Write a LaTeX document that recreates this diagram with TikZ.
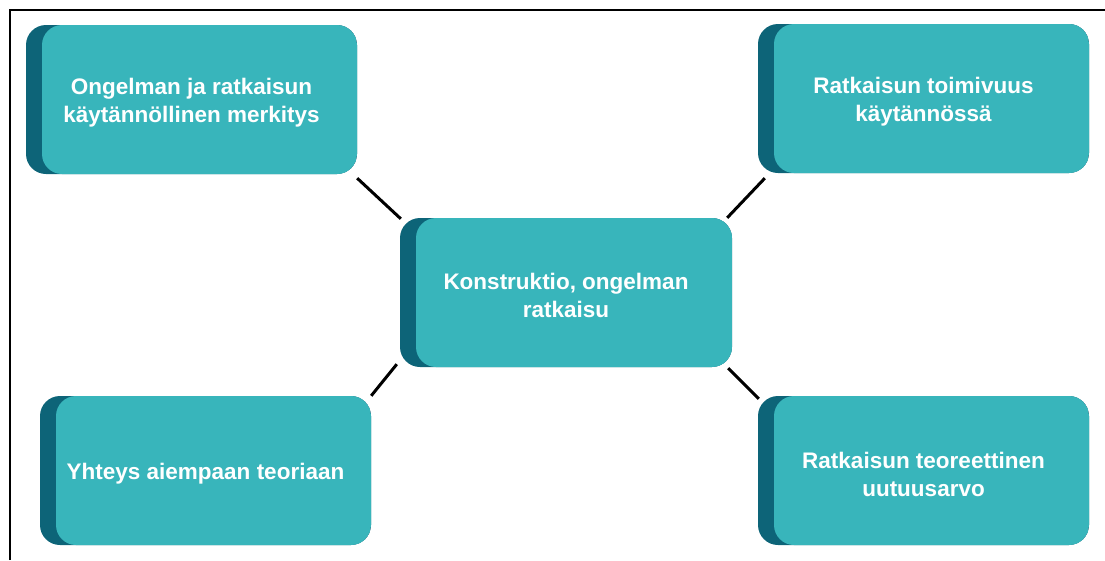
\documentclass[tikz,border=0pt]{standalone}
\usepackage{fontspec}
\setmainfont{Liberation Sans}
\usetikzlibrary{calc}
\definecolor{tealfront}{HTML}{38B5BB}
\definecolor{tealback}{HTML}{0D6478}
\begin{document}
\begin{tikzpicture}[x=1pt,y=-1pt,
  card/.style={rectangle, rounded corners=20pt, fill=tealback,
    minimum width=331pt, minimum height=149pt, inner sep=0pt,
    path picture={\fill[tealfront, rounded corners=20pt]
      ([xshift=16pt]path picture bounding box.south west)
      rectangle (path picture bounding box.north east);}},
  cardtext/.style={text=white, align=center, inner sep=0pt,
    font=\fontsize{22.5}{28}\selectfont\bfseries},
  link/.style={line width=3pt, black},
  frame/.style={line width=2pt, black}]
\useasboundingbox (0,0) rectangle (1105,560);

% outer frame (top and left edges)
\coordinate (fl) at (10,560);
\coordinate (fc) at (10,10);
\coordinate (fr) at (1105,10);
\draw[frame] (fl) -- (fc) -- (fr);

% cards
\node[card] (a) at (191.5,99.5) {};
\node[card] (b) at (923.5,98.5) {};
\node[card, minimum width=332pt] (c) at (566,292.5) {};
\node[card] (d) at (205.5,470.5) {};
\node[card] (e) at (923.5,470.5) {};

% card captions, set a little below each card's centre
\node[cardtext] (at) at ($(a.center)+(0,3.5)$) {Ongelman ja ratkaisun\\käytännöllinen merkitys};
\node[cardtext] (bt) at ($(b.center)+(0,3.5)$) {Ratkaisun toimivuus\\käytännössä};
\node[cardtext] (ct) at ($(c.center)+(0,3)$) {Konstruktio, ongelman\\ratkaisu};
\node[cardtext] (dt) at ($(d.center)+(0,3.5)$) {Yhteys aiempaan teoriaan};
\node[cardtext] (et) at ($(e.center)+(0,3.5)$) {Ratkaisun teoreettinen\\uutuusarvo};

% connectors
\draw[link] ($(a.south east)+(0,4)$) -- ($(c.north west)+(1,1)$);
\draw[link] ($(c.north east)+(-5,0)$) -- ($(b.south west)+(7,5)$);
\draw[link] ($(c.south west)+(-3,-3)$) -- (d.north east);
\draw[link] ($(c.south east)+(-4,1)$) -- ($(e.north west)+(1,3)$);
\end{tikzpicture}
\end{document}
